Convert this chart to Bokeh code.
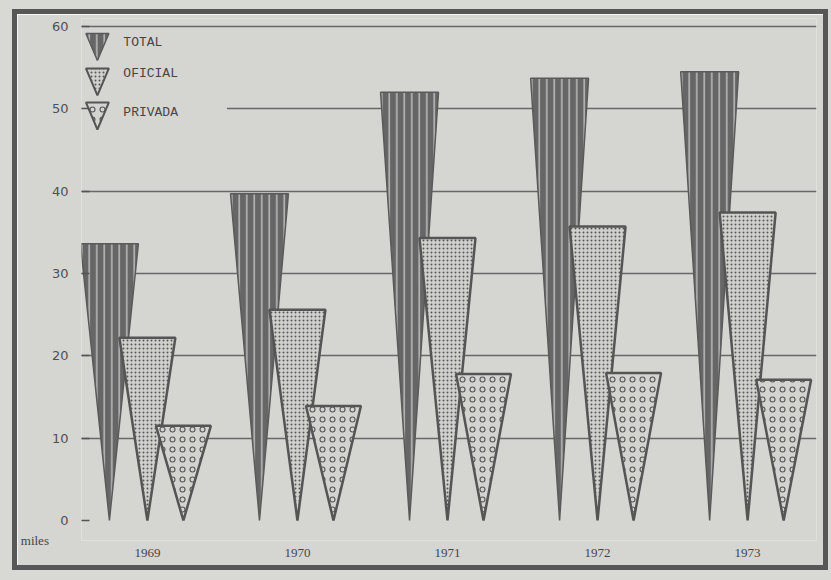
from bokeh.plotting import figure
from bokeh.models import FixedTicker, Label
from bokeh.core.properties import value
from bokeh.embed import file_html
from bokeh.resources import INLINE

# ---------------- data ----------------
years = ["1969", "1970", "1971", "1972", "1973"]
series_names = ["TOTAL", "OFICIAL", "PRIVADA"]
total = [33.6, 39.7, 52.0, 53.7, 54.5]
oficial = [22.2, 25.6, 34.3, 35.7, 37.4]
privada = [11.5, 13.9, 17.8, 17.9, 17.1]
y_ticks = [0, 10, 20, 30, 40, 50, 60]
unit_label = "miles"

# ---------------- styles ----------------
BG = "#d5d5d2"
TEXT = "#454545"

styles = {
    "TOTAL": dict(offset=-0.253, width=0.386, fill_color="#666666", line_color="#5a5a5a",
                  line_width=1.5, hatch_pattern="vertical_line", hatch_color="#dcdcdc",
                  hatch_scale=7.5, hatch_weight=1.1),
    "OFICIAL": dict(offset=0.0, width=0.373, fill_color="#d0d0cd", line_color="#555555",
                    line_width=2.5, hatch_pattern="dot", hatch_color="#555555",
                    hatch_scale=4, hatch_weight=1.6),
    "PRIVADA": dict(offset=0.24, width=0.366, fill_color="#d3d3d0", line_color="#555555",
                    line_width=2.5, hatch_pattern="ring", hatch_color="#555555",
                    hatch_scale=10, hatch_weight=1.1),
}

p = figure(width=806, height=551, output_backend="svg", toolbar_location=None,
           x_range=(-0.439, 4.459), y_range=(-2.43, 60.97),
           min_border_left=63, min_border_right=17, min_border_top=4, min_border_bottom=35)
p.styles = {"border": "5px solid #575757", "box-sizing": "content-box",
            "margin-left": "12px", "margin-top": "9px",
            "box-shadow": "0 0 0 20px #d8d8d5"}
p.background_fill_color = BG
p.border_fill_color = BG
p.outline_line_color = None


def triangles(vals, offset, width):
    xs, ys = [], []
    for i, v in enumerate(vals):
        c = i + offset
        xs.append([c - width / 2, c + width / 2, c])
        ys.append([v, v, 0])
    return xs, ys


# occluder so the 50 gridline starts after the legend text (as in the original)
p.quad(left=[-0.439], right=[0.53], bottom=[48.8], top=[51.3], fill_color=BG, line_color=None)

for name, vals in zip(series_names, [total, oficial, privada]):
    st = dict(styles[name])
    off = st.pop("offset")
    w = st.pop("width")
    xs, ys = triangles(vals, off, w)
    p.patches(xs, ys, **st)

# legend (drawn manually as inverted triangles)
leg_x = -0.333
leg_w = 0.153
leg_h = 3.28
leg_tops = [59.15, 54.9, 50.77]
leg_text_y = [58.1, 54.3, 49.6]
for name, top in zip(series_names, leg_tops):
    st = dict(styles[name])
    st.pop("offset"); st.pop("width")
    st["line_width"] = min(st["line_width"], 2)
    p.patches([[leg_x - leg_w / 2, leg_x + leg_w / 2, leg_x]], [[top, top, top - leg_h]], **st)
p.text(x=[-0.16] * 3, y=leg_text_y, text=series_names, text_baseline="middle",
       text_align="left", text_font=value("Liberation Mono"), text_font_size="13px",
       text_color=TEXT)

# axes
p.xgrid.visible = False
p.ygrid.ticker = FixedTicker(ticks=y_ticks[1:])
p.ygrid.grid_line_color = "#686868"
p.ygrid.grid_line_width = 1.5

yax = p.yaxis[0]
yax.ticker = FixedTicker(ticks=y_ticks)
yax.axis_line_color = None
yax.major_tick_out = 0
yax.major_tick_in = 8
yax.major_tick_line_color = "#555555"
yax.major_tick_line_width = 1.5
yax.minor_tick_line_color = None
yax.major_label_standoff = 13
yax.major_label_text_font = "DejaVu Sans"
yax.major_label_text_font_size = "13px"
yax.major_label_text_color = "#505050"

xax = p.xaxis[0]
xax.ticker = FixedTicker(ticks=list(range(len(years))))
xax.major_label_overrides = {i: y for i, y in enumerate(years)}
xax.axis_line_color = None
xax.major_tick_line_color = None
xax.minor_tick_line_color = None
xax.major_label_standoff = 2
xax.major_label_text_font = "Liberation Serif"
xax.major_label_text_font_size = "13px"
xax.major_label_text_color = TEXT

if "axis_label_align" in yax.properties():
    yax.axis_label = unit_label
    yax.axis_label_orientation = "horizontal"
    yax.axis_label_align = "start"
    yax.axis_label_standoff = 0
    yax.axis_label_text_font = "Liberation Serif"
    yax.axis_label_text_font_style = "normal"
    yax.axis_label_text_font_size = "13px"
    yax.axis_label_text_color = TEXT
else:
    p.add_layout(Label(x=-0.745, y=-3.04, text=unit_label, text_align="center",
                       text_baseline="middle", text_font="Liberation Serif",
                       text_font_size="13px", text_color=TEXT))

open("out.html", "w").write(file_html(p, INLINE))
